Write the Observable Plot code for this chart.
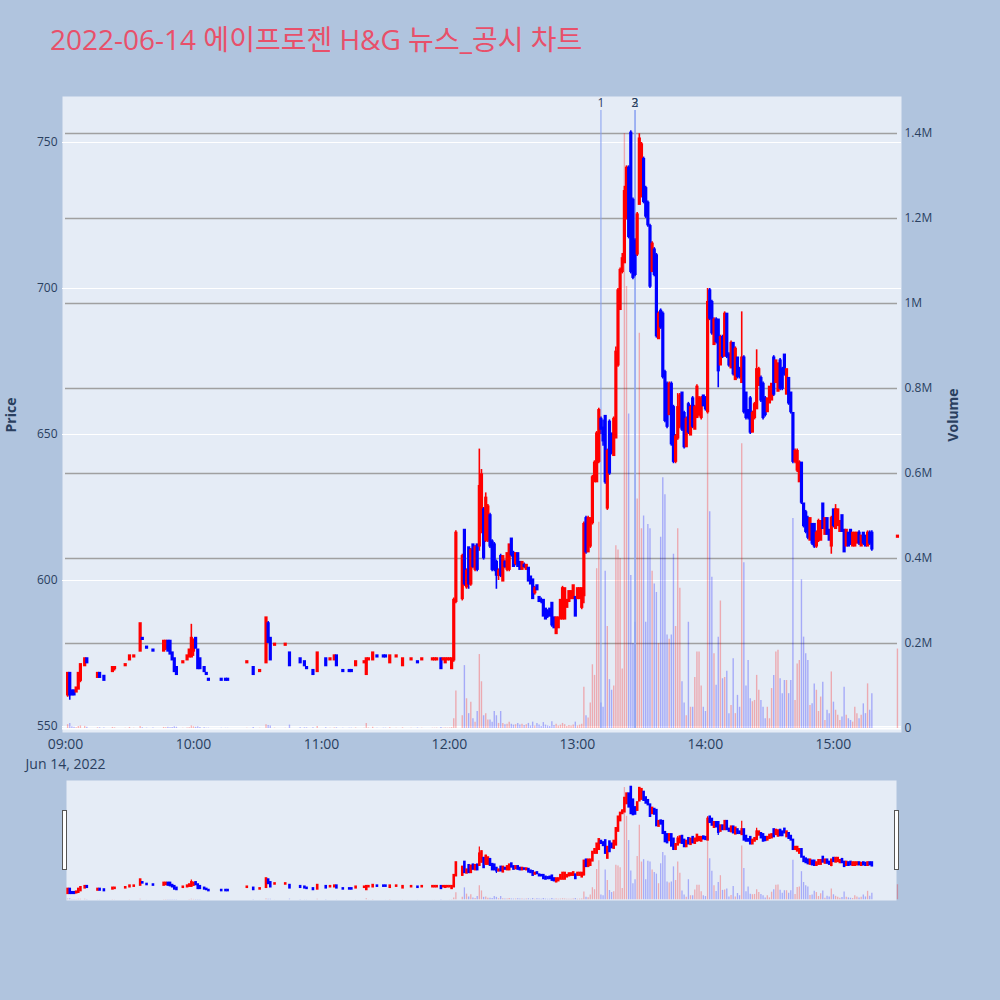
<!DOCTYPE html>
<html lang="ko">
<head>
<meta charset="utf-8">
<title>에이프로젠 H&amp;G 뉴스_공시 차트</title>
<script src="https://cdn.jsdelivr.net/npm/d3@7"></script>
<script src="https://cdn.jsdelivr.net/npm/@observablehq/plot@0.6"></script>
<style>
  html, body { margin: 0; background: #b0c4de; }
  #page { position: relative; width: 1000px; height: 1000px; background: #b0c4de; overflow: hidden;
          font-family: "Open Sans", "Noto Sans CJK KR", sans-serif; color: #2a3f5f; }
  #page svg { position: absolute; left: 0; }
  #title { position: absolute; left: 50px; top: 25px; font-size: 28px; line-height: 28px; color: #e8506a; white-space: nowrap; }
  .ytitle { position: absolute; top: 415px; font-size: 14px; font-weight: bold; white-space: nowrap;
            transform: translate(-50%, -50%) rotate(-90deg); }
  .handle { position: absolute; z-index: 5; top: 810px; width: 3px; height: 58px; background: #fff; border: 1px solid #555; }
</style>
</head>
<body>
<div id="page">
  <div id="title">2022-06-14 에이프로젠 H&amp;G 뉴스_공시 차트</div>
  <div class="ytitle" style="left:10px">Price</div>
  <div class="ytitle" style="left:952px">Volume</div>
  <div class="handle" style="left:62px"></div>
  <div class="handle" style="left:894px"></div>
</div>
<script>
const UP = "#ff0000", DOWN = "#0000ff";
const PANEL = "#e5ecf6", INK = "#2a3f5f";

// one-minute candles, minutes after 09:00 (gaps = no trades)
const mins = [
  1, 2, 3, 4, 5, 6, 7, 9, 10,
  15, 16, 18, 22, 23, 28, 30, 32,
  35, 36, 38, 41, 46, 47, 48, 49, 50, 51,
  52, 55, 57, 58, 59, 60, 61, 62, 63, 65,
  66, 67, 73, 75, 76, 85, 88, 91, 94, 95,
  96, 98, 103, 105, 110, 112, 113, 116, 118, 122,
  124, 126, 127, 130, 133, 134, 136, 140, 141, 142,
  144, 146, 149, 150, 152, 155, 158, 162, 165, 167,
  172, 173, 174, 176, 177, 178, 179, 180, 181,
  182, 183, 186, 187, 188, 189, 190, 191, 192, 193,
  194, 195, 196, 197, 198, 199, 200, 201, 202, 203,
  204, 205, 206, 207, 208, 209, 210, 211, 212, 213,
  214, 215, 216, 217, 218, 219, 220, 221, 222, 223,
  224, 225, 226, 227, 228, 229, 230, 231, 232, 233,
  234, 235, 236, 237, 238, 239, 240, 241, 242, 243,
  244, 245, 246, 247, 248, 249, 250, 251, 252, 253,
  254, 255, 256, 257, 258, 259, 260, 261, 262, 263,
  264, 265, 266, 267, 268, 269, 270, 271, 272, 273,
  274, 275, 276, 277, 278, 279, 280, 281, 282, 283,
  284, 285, 286, 287, 288, 289, 290, 291, 292, 293,
  294, 295, 296, 297, 298, 299, 300, 301, 302, 303,
  304, 305, 306, 307, 308, 309, 310, 311, 312, 313,
  314, 315, 316, 317, 318, 319, 320, 321, 322, 323,
  324, 325, 326, 327, 328, 329, 330, 331, 332, 333,
  334, 335, 336, 337, 338, 339, 340, 341, 342, 343,
  344, 345, 346, 347, 348, 349, 350, 351, 352, 353,
  354, 355, 356, 357, 358, 359, 360, 361, 362, 363,
  364, 365, 366, 367, 368, 369, 370, 371, 372, 373,
  374, 375, 376, 377, 378, 390
];
const opens = [
  561, 568, 562, 562, 562, 563, 566, 571, 573,
  567, 568, 567, 569, 570, 571, 573, 574,
  576, 580, 577, 576, 576, 577, 579, 579, 575, 573,
  570, 572, 573, 574, 574, 576, 580, 576, 573, 570,
  568, 566, 566, 566, 566, 572, 570, 569, 572, 585,
  580, 578, 578, 575, 573, 572, 570, 569, 569, 573,
  573, 573, 574, 569, 569, 569, 571, 572, 568, 573,
  573, 574, 574, 574, 572, 574, 571, 573, 572, 573,
  573, 573, 573, 573, 573, 572, 573, 573, 570,
  573, 593, 594, 617, 598, 611, 599, 612, 604, 612,
  612, 618, 624, 614, 614, 622, 613, 612, 606, 602,
  608, 600, 606, 604, 604, 614, 609, 606, 609, 606,
  604, 605, 604, 604, 601, 600, 596, 598, 594, 593,
  593, 590, 589, 590, 592, 587, 582, 584, 587, 587,
  587, 591, 593, 594, 594, 594, 594, 594, 591, 595,
  621, 610, 612, 620, 634, 634, 641, 655, 652, 656,
  625, 654, 650, 643, 649, 674, 693, 706, 709, 724,
  741, 753, 730, 716, 712, 729, 732, 744, 734, 729,
  721, 706, 713, 711, 683, 692, 691, 671, 667, 657,
  667, 659, 641, 649, 653, 664, 657, 646, 660, 650,
  662, 652, 656, 657, 656, 663, 662, 658, 699, 695,
  681, 689, 689, 674, 683, 677, 691, 677, 673, 681,
  669, 676, 672, 668, 676, 664, 658, 662, 651, 656,
  659, 667, 669, 667, 662, 658, 661, 662, 676, 668,
  665, 675, 672, 677, 664, 669, 664, 657, 641, 638,
  634, 640, 626, 623, 621, 614, 619, 619, 612, 614,
  614, 626, 616, 621, 617, 612, 624, 618, 619, 617,
  622, 617, 612, 616, 617, 612, 612, 613, 616, 612,
  616, 615, 612, 616, 616, 615
];
const highs = [
  568, 568, 562, 562, 563, 568, 571, 573, 573,
  568, 568, 567, 570, 570, 571, 574, 574,
  585, 580, 577, 576, 579, 579, 579, 579, 575, 573,
  570, 572, 574, 576, 585, 580, 580, 576, 573, 570,
  568, 566, 566, 566, 566, 572, 570, 569, 587, 586,
  580, 578, 578, 575, 573, 572, 570, 569, 575, 573,
  573, 574, 574, 569, 569, 569, 572, 572, 573, 573,
  575, 574, 574, 574, 574, 574, 573, 573, 572, 573,
  573, 573, 573, 573, 573, 573, 573, 573, 573,
  594, 617, 609, 617, 604, 611, 611, 612, 612, 612,
  645, 638, 625, 630, 626, 623, 614, 613, 607, 604,
  609, 608, 607, 609, 612, 614, 610, 609, 609, 606,
  606, 606, 605, 604, 601, 600, 598, 598, 594, 594,
  593, 590, 590, 590, 592, 587, 587, 587, 593, 598,
  597, 593, 596, 596, 598, 594, 597, 597, 597, 620,
  622, 622, 621, 636, 641, 651, 659, 656, 655, 656,
  645, 655, 650, 656, 680, 700, 707, 712, 735, 742,
  742, 754, 731, 717, 726, 753, 750, 745, 735, 730,
  722, 716, 714, 712, 692, 693, 692, 672, 668, 668,
  668, 660, 650, 664, 664, 664, 658, 656, 661, 660,
  663, 660, 667, 663, 663, 663, 663, 700, 700, 696,
  690, 690, 689, 684, 684, 692, 691, 678, 682, 681,
  680, 676, 673, 692, 677, 664, 658, 663, 658, 661,
  679, 673, 670, 668, 663, 662, 666, 667, 677, 675,
  674, 676, 673, 677, 672, 669, 664, 657, 645, 645,
  641, 640, 626, 624, 622, 621, 619, 619, 617, 621,
  620, 626, 621, 621, 617, 622, 624, 626, 624, 620,
  622, 617, 617, 616, 617, 616, 616, 616, 617, 615,
  616, 615, 617, 617, 617, 615
];
const lows = [
  560, 559, 561, 561, 562, 563, 565, 571, 572,
  567, 567, 566, 569, 569, 571, 573, 574,
  576, 580, 577, 576, 576, 576, 576, 575, 573, 569,
  568, 572, 573, 574, 574, 574, 577, 570, 570, 569,
  568, 566, 566, 566, 566, 572, 568, 569, 572, 579,
  573, 578, 578, 571, 572, 571, 570, 568, 569, 571,
  573, 573, 571, 569, 569, 569, 571, 572, 568, 573,
  573, 574, 574, 574, 572, 574, 571, 573, 572, 573,
  573, 573, 573, 570, 573, 572, 573, 573, 570,
  572, 592, 593, 598, 597, 597, 598, 604, 603, 603,
  610, 616, 607, 613, 613, 611, 603, 603, 597, 600,
  601, 600, 604, 603, 603, 608, 605, 605, 605, 604,
  604, 604, 604, 600, 599, 594, 595, 597, 593, 592,
  588, 587, 587, 588, 584, 584, 582, 584, 587, 587,
  587, 591, 593, 594, 594, 588, 594, 594, 590, 592,
  609, 610, 611, 619, 634, 634, 640, 650, 646, 633,
  624, 636, 643, 643, 649, 673, 693, 705, 709, 724,
  717, 705, 703, 704, 711, 729, 731, 729, 724, 721,
  700, 706, 704, 683, 683, 686, 669, 654, 652, 657,
  646, 640, 640, 648, 652, 651, 645, 646, 650, 650,
  652, 652, 656, 656, 655, 660, 658, 657, 689, 684,
  681, 681, 666, 674, 676, 677, 676, 673, 673, 670,
  669, 669, 669, 668, 657, 655, 655, 650, 651, 655,
  659, 667, 661, 655, 656, 658, 661, 662, 663, 668,
  665, 665, 665, 670, 664, 660, 657, 640, 640, 637,
  634, 626, 618, 616, 614, 614, 612, 611, 611, 613,
  614, 618, 616, 616, 614, 609, 618, 618, 619, 617,
  617, 610, 612, 612, 612, 612, 612, 613, 612, 612,
  612, 612, 612, 612, 610, 615
];
const closes = [
  568, 561, 561, 561, 563, 568, 571, 573, 572,
  568, 567, 566, 570, 570, 571, 574, 574,
  585, 580, 577, 576, 579, 579, 576, 575, 573, 569,
  568, 572, 574, 576, 580, 579, 577, 570, 570, 569,
  568, 566, 566, 566, 566, 572, 568, 569, 587, 579,
  573, 578, 578, 571, 572, 571, 570, 568, 575, 571,
  573, 574, 571, 569, 569, 569, 572, 572, 573, 573,
  575, 574, 574, 574, 574, 574, 573, 573, 572, 573,
  573, 573, 573, 570, 573, 573, 573, 573, 573,
  593, 616, 608, 599, 603, 599, 610, 605, 611, 604,
  632, 636, 608, 628, 625, 612, 604, 604, 602, 603,
  602, 608, 605, 609, 612, 609, 605, 609, 605, 604,
  606, 605, 605, 600, 599, 594, 597, 597, 593, 593,
  588, 587, 588, 588, 585, 584, 587, 587, 593, 597,
  597, 593, 596, 596, 598, 588, 597, 597, 597, 619,
  610, 621, 621, 635, 640, 650, 658, 652, 648, 634,
  644, 637, 644, 655, 678, 699, 706, 710, 733, 741,
  718, 706, 704, 705, 725, 751, 749, 730, 725, 722,
  701, 715, 705, 684, 691, 687, 670, 655, 653, 667,
  647, 641, 649, 659, 663, 652, 646, 655, 651, 659,
  653, 659, 666, 662, 662, 660, 659, 695, 690, 685,
  689, 682, 672, 683, 677, 691, 677, 674, 681, 671,
  679, 670, 670, 676, 658, 656, 656, 651, 657, 660,
  672, 672, 662, 656, 657, 662, 666, 667, 664, 675,
  674, 666, 666, 671, 672, 661, 658, 641, 644, 644,
  640, 627, 619, 617, 615, 621, 613, 612, 616, 620,
  620, 618, 621, 616, 614, 621, 619, 624, 624, 620,
  617, 610, 617, 612, 613, 616, 616, 616, 613, 615,
  613, 612, 616, 613, 611, 615
];
const volumes = [
  9000, 12000, 4000, 3000, 2000, 5000, 6000, 5000, 3000,
  1500, 1500, 1000, 2500, 1500, 800, 2500, 800,
  5000, 1500, 800, 1000, 2500, 2000, 3000, 2000, 2500, 4000,
  3000, 700, 900, 2000, 6000, 4000, 3000, 4000, 2500, 1500,
  800, 800, 500, 500, 500, 700, 2500, 600, 9000, 7000,
  6000, 800, 700, 8000, 2000, 1500, 1500, 1500, 5000, 2000,
  700, 900, 1500, 600, 600, 700, 1200, 600, 12000, 1200,
  3000, 800, 700, 700, 2000, 600, 1500, 600, 1000, 700,
  600, 600, 800, 2500, 800, 1000, 900, 1200, 2000,
  23000, 88000, 30000, 148000, 70000, 35000, 62000, 23000, 15000, 40000,
  174000, 110000, 30000, 35000, 20000, 20000, 15000, 40000, 30000, 12000,
  40000, 12000, 9000, 10000, 15000, 10000, 8000, 9000, 12000, 8000,
  10000, 7000, 9000, 12000, 6000, 15000, 6000, 12000, 8000, 5000,
  14000, 8000, 6000, 5000, 16000, 7000, 10000, 6000, 8000, 12000,
  9000, 5000, 7000, 6000, 8000, 15000, 6000, 8000, 10000, 97000,
  30000, 25000, 60000, 150000, 125000, 376000, 485000, 60000, 50000, 370000,
  240000, 115000, 90000, 100000, 430000, 420000, 400000, 140000, 1400000, 1040000,
  740000, 360000, 200000, 250000, 540000, 930000, 470000, 500000, 250000, 480000,
  470000, 370000, 340000, 320000, 200000, 450000, 590000, 550000, 220000, 210000,
  220000, 410000, 240000, 470000, 330000, 110000, 60000, 30000, 250000, 50000,
  50000, 120000, 180000, 180000, 100000, 50000, 40000, 990000, 510000, 356000,
  176000, 102000, 215000, 300000, 117000, 120000, 135000, 35000, 54000, 164000,
  35000, 78000, 50000, 670000, 390000, 100000, 160000, 70000, 63000, 66000,
  125000, 90000, 66000, 50000, 23000, 50000, 23000, 94000, 125000, 180000,
  184000, 117000, 82000, 113000, 113000, 82000, 113000, 494000, 66000, 152000,
  160000, 350000, 215000, 176000, 160000, 54000, 58000, 105000, 90000, 40000,
  74000, 109000, 19000, 43000, 35000, 133000, 62000, 43000, 31000, 19000,
  27000, 97000, 31000, 23000, 19000, 15000, 50000, 35000, 23000, 31000,
  58000, 35000, 105000, 43000, 82000, 187000
];

// news / disclosure markers
const newsMins = [251, 267, 267];
const newsLabels = ["1", "2", "3"];

const priceTicks = [550, 600, 650, 700, 750];
const volumeTicks = [0, 200000, 400000, 600000, 800000, 1000000, 1200000, 1400000];
const hourTicks = [9, 10, 11, 12, 13, 14, 15];

console.assert([opens, highs, lows, closes, volumes].every(a => a.length === mins.length), "column length mismatch");

const T0 = Date.UTC(2022, 5, 14, 9, 0);
const at = (m) => new Date(T0 + m * 60000);

// direction the way plotly decides it: close vs open, ties go by previous close
let prevDir = 1, prevClose = null;
const candles = mins.map((m, i) => {
  const o = opens[i], c = closes[i];
  let dir;
  if (c > o) dir = 1;
  else if (c < o) dir = -1;
  else if (prevClose === null || c === prevClose) dir = prevDir;
  else dir = c > prevClose ? 1 : -1;
  prevDir = dir; prevClose = c;
  return {date: at(m), open: o, high: highs[i], low: lows[i], close: c, volume: volumes[i], dir};
});
const colorOf = (d) => d.dir > 0 ? UP : DOWN;
const news = newsMins.map((m, i) => ({date: at(m), label: newsLabels[i]}));

const xDomain = [at(-1.4), at(391.9)];
const priceDomain = [547.95, 765.75];
const volumeDomain = [-9400, 1487000];
const hm = d3.utcFormat("%H:%M"), dayFmt = d3.utcFormat("%b %-d, %Y");
const fmtVol = (v) => v === 0 ? "0" : (v / 1e6) + "M";

const page = document.getElementById("page");
function place(svg, top) {
  svg.style.top = top + "px";
  page.appendChild(svg);
}
const frameOpts = (height, top, bottom) => ({
  width: 1000, height,
  marginTop: top, marginBottom: bottom, marginLeft: 62, marginRight: 99,
  style: {background: "transparent", fontFamily: "'Open Sans', sans-serif", fontSize: "12px", overflow: "visible"}
});

// layer 1: panel + price grid + price axis
place(Plot.plot({
  ...frameOpts(760, 96, 28),
  x: {type: "utc", domain: xDomain, axis: null},
  y: {domain: priceDomain},
  marks: [
    Plot.frame({fill: PANEL, stroke: "none"}),
    Plot.gridY(priceTicks, {stroke: "#fff", strokeOpacity: 1, strokeWidth: 1.2}),
    Plot.axisY(priceTicks, {tickSize: 0, tickPadding: 5, color: INK, fontSize: 12, label: null})
  ]
}), 0);

// layer 2: volume grid, bars, news lines, volume axis
place(Plot.plot({
  ...frameOpts(760, 96, 28),
  x: {type: "utc", domain: xDomain, axis: null},
  y: {domain: volumeDomain},
  marks: [
    Plot.ruleY(volumeTicks.filter((v) => v > 0), {stroke: "#a0a0a0", strokeWidth: 1.6, insetLeft: 3, insetRight: 4}),
    Plot.ruleY([0], {stroke: "#fff", strokeWidth: 2}),
    Plot.ruleX(candles, {x: "date", y1: 0, y2: "volume", stroke: colorOf, strokeOpacity: 0.28, strokeWidth: 1.4}),
    Plot.ruleX(news, {x: "date", stroke: "#8aa2f0", strokeOpacity: 0.75, strokeWidth: 1.4, insetTop: 14, insetBottom: 4}),
    Plot.axisY(volumeTicks, {anchor: "right", tickSize: 0, tickPadding: 3, tickFormat: fmtVol, color: INK, fontSize: 12, label: null})
  ]
}), 0);

// layer 3: candles, time axis, news labels
place(Plot.plot({
  ...frameOpts(760, 96, 28),
  x: {type: "utc", domain: xDomain},
  y: {domain: priceDomain, axis: null},
  marks: [
    Plot.ruleX(candles, {x: "date", y1: "low", y2: "high", stroke: colorOf, strokeWidth: 1.6}),
    Plot.ruleX(candles, {x: "date", y1: "open", y2: "close", stroke: colorOf, strokeWidth: 3.2, strokeLinecap: "square"}),
    Plot.text(news, {x: "date", text: "label", frameAnchor: "top", dy: 1.5, fill: INK, fontSize: 12}),
    Plot.axisX(hourTicks.map((h) => at((h - 9) * 60)), {
      tickSize: 0, tickPadding: 3, color: INK, fontSize: 14, lineHeight: 1.4, label: null,
      tickFormat: (d, i) => i === 0 ? hm(d) + "\n" + dayFmt(d) : hm(d)
    })
  ]
}), 0);

// range slider: same data in miniature
place(Plot.plot({
  ...frameOpts(120, 0, 0),
  x: {type: "utc", domain: xDomain, axis: null},
  y: {domain: volumeDomain, axis: null},
  marks: [
    Plot.frame({fill: PANEL, stroke: "none", insetLeft: 4, insetRight: 5}),
    Plot.ruleX(candles, {x: "date", y1: 0, y2: "volume", stroke: colorOf, strokeOpacity: 0.28, strokeWidth: 1.3})
  ]
}), 780);
place(Plot.plot({
  ...frameOpts(120, 0, 0),
  x: {type: "utc", domain: xDomain, axis: null},
  y: {domain: priceDomain, axis: null},
  marks: [
    Plot.ruleX(candles, {x: "date", y1: "low", y2: "high", stroke: colorOf, strokeWidth: 1.2}),
    Plot.ruleX(candles, {x: "date", y1: "open", y2: "close", stroke: colorOf, strokeWidth: 2.6, strokeLinecap: "square"})
  ]
}), 780);
</script>
</body>
</html>
